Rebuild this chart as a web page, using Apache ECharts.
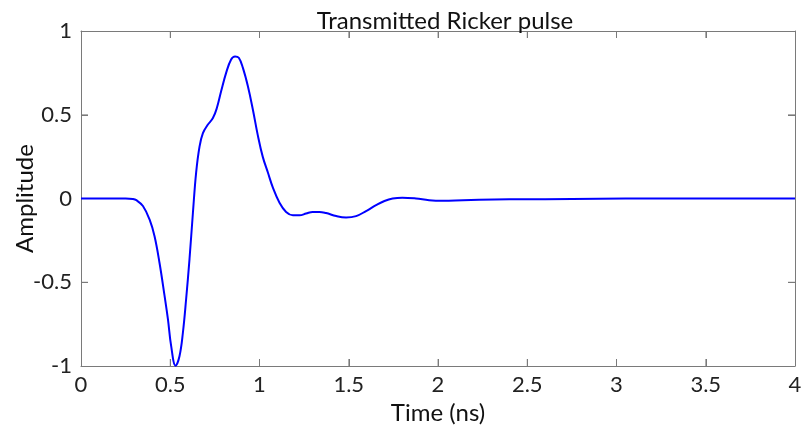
<!DOCTYPE html>
<html>
<head>
<meta charset="utf-8">
<script src="https://cdn.jsdelivr.net/npm/echarts@6/dist/echarts.min.js"></script>
<style>html,body{margin:0;padding:0;background:#fff;}#c{width:803px;height:430px;}</style>
</head>
<body>
<div id="c"></div>
<script>
const timeNs = [0, 0.25, 0.29, 0.31, 0.347, 0.384, 0.412, 0.44, 0.468, 0.487, 0.505, 0.53, 0.552, 0.571, 0.589, 0.608, 0.627, 0.645, 0.664, 0.683, 0.71, 0.739, 0.761, 0.785, 0.813, 0.841, 0.863, 0.884, 0.907, 0.935, 0.963, 0.99, 1.018, 1.047, 1.075, 1.112, 1.149, 1.187, 1.224, 1.261, 1.298, 1.336, 1.373, 1.43, 1.485, 1.541, 1.597, 1.653, 1.70, 1.746, 1.80, 1.877, 1.95, 2.03, 2.14, 2.23, 2.4, 2.6, 2.9, 3.2, 3.6, 4.0];
const amplitude = [0, 0, -0.003, -0.01, -0.045, -0.125, -0.225, -0.385, -0.58, -0.72, -0.88, -0.998, -0.94, -0.80, -0.60, -0.36, -0.085, 0.155, 0.31, 0.39, 0.44, 0.48, 0.54, 0.64, 0.75, 0.83, 0.848, 0.84, 0.78, 0.67, 0.53, 0.38, 0.25, 0.155, 0.065, -0.025, -0.08, -0.1, -0.1, -0.09, -0.08, -0.08, -0.087, -0.105, -0.113, -0.105, -0.075, -0.04, -0.015, 0.0, 0.005, 0.0, -0.01, -0.013, -0.01, -0.008, -0.005, -0.004, -0.002, 0, 0, 0];
const xTicks = [0, 0.5, 1, 1.5, 2, 2.5, 3, 3.5, 4];
const yTicks = [-1, -0.5, 0, 0.5, 1];
const titleText = 'Transmitted Ricker pulse';
const xName = 'Time (ns)';
const yName = 'Amplitude';

const font = 'Lato, "Open Sans", sans-serif';
const axisColor = '#7a7a7a';
const chart = echarts.init(document.getElementById('c'));
const pts = timeNs.map((t, i) => [t, amplitude[i]]);
const xMin = xTicks[0], xMax = xTicks[xTicks.length - 1];
const yMin = yTicks[0], yMax = yTicks[yTicks.length - 1];
const xInner = xTicks.slice(1, -1);
const yInner = yTicks.slice(1, -1);
function baseAxis() {
  return {
    axisLine: {show: true, onZero: false, lineStyle: {color: axisColor, width: 1}},
    axisTick: {show: true, inside: true, length: 7, lineStyle: {color: axisColor, width: 1}},
    splitLine: {show: false},
    minorTick: {show: false}
  };
}
function tickSeries(data, size, offset) {
  return {type: 'scatter', data: data, symbol: 'rect', symbolSize: size, symbolOffset: offset,
    itemStyle: {color: axisColor}, silent: true, clip: false, z: 1, xAxisIndex: 0, yAxisIndex: 0};
}
const xStep = xTicks[1] - xTicks[0];
const yStep = yTicks[1] - yTicks[0];
chart.setOption({
  animation: false,
  title: {text: titleText, left: 440, top: 4, textAlign: 'center',
    textStyle: {fontFamily: font, fontSize: 24, fontWeight: 'normal', color: '#111'}},
  grid: {left: 81, right: 8, top: 31, bottom: 64, outerBoundsMode: 'none', containLabel: false},
  xAxis: [
    Object.assign(baseAxis(), {type: 'value', min: xMin, max: xMax, interval: xStep, position: 'bottom',
      name: xName, nameLocation: 'middle', nameGap: 34,
      nameTextStyle: {fontFamily: font, fontSize: 24, color: '#111'},
      axisLabel: {fontFamily: font, fontSize: 22, color: '#222', margin: 8,
        formatter: v => String(v)}}),
    Object.assign(baseAxis(), {type: 'value', min: xMin, max: xMax, interval: xStep, position: 'top',
      axisLabel: {show: false}})
  ],
  yAxis: [
    Object.assign(baseAxis(), {type: 'value', min: yMin, max: yMax, interval: yStep, position: 'left',
      name: yName, nameLocation: 'middle', nameGap: 44, nameRotate: 90, nameMoveOverlap: false,
      nameTextStyle: {fontFamily: font, fontSize: 24, color: '#111'},
      axisLabel: {fontFamily: font, fontSize: 22, color: '#222', margin: 9,
        formatter: v => String(v)}}),
    Object.assign(baseAxis(), {type: 'value', min: yMin, max: yMax, interval: yStep, position: 'right',
      axisLabel: {show: false}})
  ],
  series: [
    tickSeries(xInner.map(v => [v, yMin]), [1, 7], [0, -3.5]),
    tickSeries(xInner.map(v => [v, yMax]), [1, 7], [0, 3.5]),
    tickSeries(yInner.map(v => [xMin, v]), [7, 1], [3.5, 0]),
    tickSeries(yInner.map(v => [xMax, v]), [7, 1], [-3.5, 0]),
    {
      type: 'line', data: pts, smooth: 0.4, showSymbol: false, symbol: 'none', z: 3,
      lineStyle: {color: '#0000ff', width: 2}, xAxisIndex: 0, yAxisIndex: 0
    }
  ]
});
</script>
</body>
</html>
